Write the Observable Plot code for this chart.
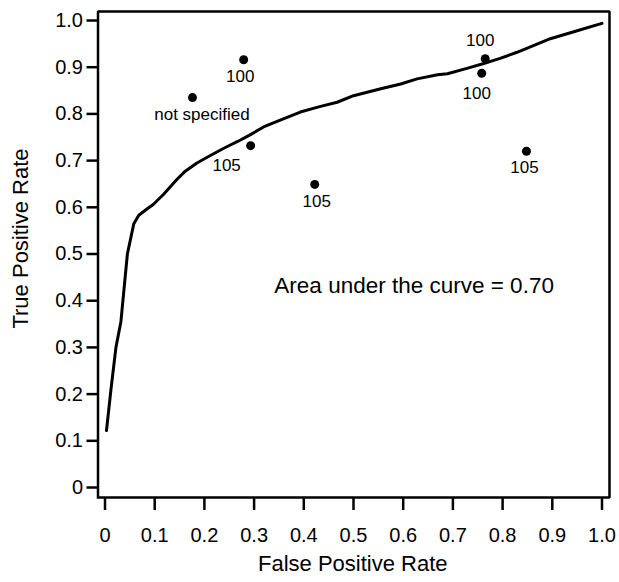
<!DOCTYPE html>
<html>
<head>
<meta charset="utf-8">
<script src="https://cdn.jsdelivr.net/npm/d3@7"></script>
<script src="https://cdn.jsdelivr.net/npm/@observablehq/plot@0.6"></script>
<style>
  html, body { margin: 0; padding: 0; background: #fff; }
  #chart svg { display: block; font-family: "Liberation Sans", Arial, sans-serif; }
</style>
</head>
<body>
<div id="chart"></div>
<script>
// ROC curve (false positive rate, true positive rate)
const curveFPR = [0.003, 0.012, 0.022, 0.032, 0.045, 0.058, 0.068, 0.085, 0.097, 0.118, 0.145, 0.160, 0.185, 0.212, 0.240, 0.267, 0.290, 0.319, 0.355, 0.393, 0.430, 0.467, 0.500, 0.555, 0.595, 0.628, 0.669, 0.689, 0.730, 0.762, 0.795, 0.829, 0.862, 0.896, 0.950, 1.000];
const curveTPR = [0.122, 0.210, 0.300, 0.355, 0.500, 0.565, 0.583, 0.597, 0.606, 0.628, 0.660, 0.676, 0.695, 0.711, 0.727, 0.741, 0.754, 0.772, 0.788, 0.804, 0.815, 0.825, 0.839, 0.854, 0.864, 0.875, 0.884, 0.886, 0.898, 0.908, 0.919, 0.932, 0.946, 0.961, 0.978, 0.994];

// Individual study points
const studyFPR = [0.176, 0.279, 0.293, 0.422, 0.765, 0.758, 0.848];
const studyTPR = [0.835, 0.916, 0.732, 0.649, 0.918, 0.887, 0.720];
const studyLabels = ["not specified", "100", "105", "105", "100", "100", "105"];

// Tick values
const xTicks = [0, 0.1, 0.2, 0.3, 0.4, 0.5, 0.6, 0.7, 0.8, 0.9, 1.0];
const yTicks = [0, 0.1, 0.2, 0.3, 0.4, 0.5, 0.6, 0.7, 0.8, 0.9, 1.0];
const xDomain = [-0.0141, 1.0151];
const yDomain = [-0.0214, 1.0193];

const xTitle = "False Positive Rate";
const yTitle = "True Positive Rate";
const annotationText = ["Area under the curve = 0.70"];
const annotationFPR = [0.622];
const annotationTPR = [0.431];

const curve = curveFPR.map((x, i) => ({x, y: curveTPR[i]}));
const studies = studyFPR.map((x, i) => ({x, y: studyTPR[i], label: studyLabels[i], i}));
const annotation = annotationText.map((t, i) => ({x: annotationFPR[i], y: annotationTPR[i], text: t}));
const fmt = d => d === 0 ? "0" : d.toFixed(1);
// Plot-area border traced along the scale domain corners
const border = [
  {x: xDomain[0], y: yDomain[0]}, {x: xDomain[0], y: yDomain[1]},
  {x: xDomain[1], y: yDomain[1]}, {x: xDomain[1], y: yDomain[0]},
  {x: xDomain[0], y: yDomain[0]}
];

const labelMark = (idx, dx, dy) => Plot.text(studies.filter(d => idx.includes(d.i)), {
  x: "x", y: "y", text: "label", dx, dy, fontSize: 17, fill: "black", textAnchor: "middle"
});

const chart = Plot.plot({
  width: 619,
  height: 582,
  marginLeft: 97.5,
  marginRight: 10,
  marginTop: 11,
  marginBottom: 85,
  style: {fontFamily: "'Liberation Sans', Arial, sans-serif", background: "#fff", color: "black"},
  x: {domain: xDomain},
  y: {domain: yDomain},
  marks: [
    Plot.axisY({ticks: yTicks, tickFormat: fmt, tickSize: 11, tickPadding: 4, strokeWidth: 2.5, fontSize: 20, label: null}),
    Plot.axisX({ticks: xTicks, tickFormat: fmt, tickSize: 13, tickPadding: 17, strokeWidth: 2.5, fontSize: 20, label: null}),
    Plot.line(border, {x: "x", y: "y", stroke: "black", strokeWidth: 2.5, strokeLinejoin: "miter", strokeLinecap: "square"}),
    Plot.line(curve, {x: "x", y: "y", stroke: "black", strokeWidth: 3, strokeLinejoin: "round", strokeLinecap: "round"}),
    Plot.dot(studies, {x: "x", y: "y", r: 4.5, fill: "black", stroke: "none"}),
    labelMark([0], 9.5, 17),
    labelMark([1], -3.5, 17),
    labelMark([2], -24, 20),
    labelMark([3], 2, 17.5),
    labelMark([4], -5, -18),
    labelMark([5], -5, 20),
    labelMark([6], -2, 16),
    Plot.text(annotation, {x: "x", y: "y", text: "text", fontSize: 22.5, fill: "black", textAnchor: "middle"}),
    Plot.text([yTitle], {text: d => d, frameAnchor: "left", rotate: -90, dx: -77.5, dy: -16, fontSize: 22, fill: "black", textAnchor: "middle"}),
    Plot.text([xTitle], {text: d => d, frameAnchor: "bottom", dx: -1, dy: 73, fontSize: 22, fill: "black", textAnchor: "middle"})
  ]
});
document.getElementById("chart").appendChild(chart);
</script>
</body>
</html>
